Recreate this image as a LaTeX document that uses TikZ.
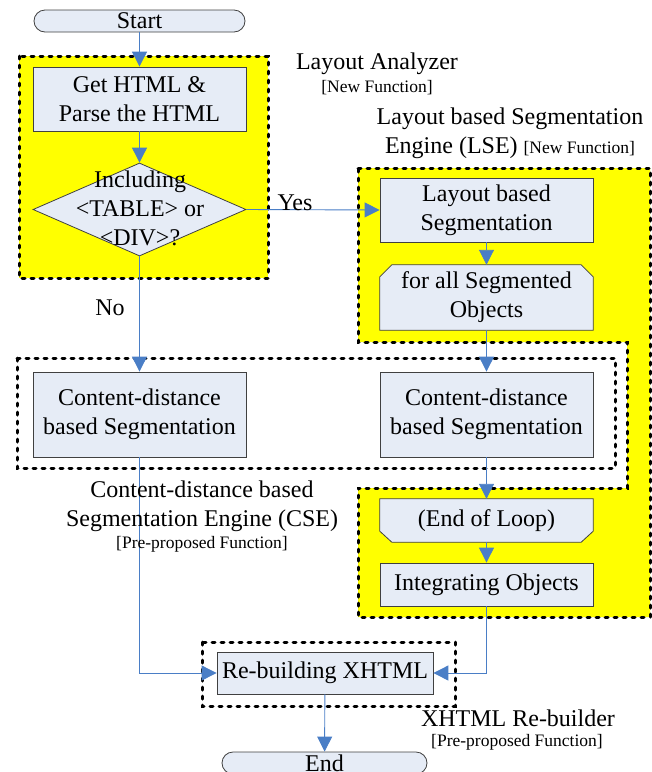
\documentclass[tikz,border=0pt]{standalone}
\usepackage{fontspec}
\setmainfont{Liberation Serif}
\usetikzlibrary{arrows.meta,shapes.geometric}
\definecolor{boxfill}{HTML}{E6ECF6}
\definecolor{boxline}{HTML}{404040}
\definecolor{flow}{HTML}{4A7EC6}
\definecolor{zone}{HTML}{FFFF00}
\pgfdeclarelayer{bg}
\pgfsetlayers{bg,main}
\begin{document}
\begin{tikzpicture}[x=1pt,y=-1pt,
  every node/.style={font=\fontsize{24}{29}\selectfont, inner sep=0pt},
  boxshape/.style={draw=boxline, fill=boxfill, line width=0.8pt},
  box/.style={boxshape, align=center, minimum width=213pt},
  txtbox/.style={align=center, minimum width=213pt},
  term/.style={box, rounded corners=11pt, minimum height=22pt},
  decision/.style={boxshape, diamond, minimum width=213pt, minimum height=93pt},
  flowline/.style={draw=flow, line width=0.9pt, -{Triangle[length=15pt,width=15pt]}},
  zonefill/.style={fill=zone},
  dashbox/.style={draw=black, line width=3pt, line cap=round, dash pattern=on 3pt off 6pt},
  note/.style={align=center},
  small/.style={font=\fontsize{17.5}{20}\selectfont}
]
\useasboundingbox (0,0) rectangle (652,772);

% functional zones
\begin{pgfonlayer}{bg}
  \filldraw[zonefill, dashbox] (19,56) rectangle (268,278);
  \filldraw[zonefill, dashbox] (358,168) -- (650,168) -- (650,617) -- (358,617)
     -- (358,488) -- (627,488) -- (627,342) -- (358,342) -- cycle;
  \draw[dashbox] (17,358) rectangle (615,468);
  \draw[dashbox] (202,642) rectangle (455,706);
\end{pgfonlayer}

% steps
\node[term, minimum width=211pt] (start) at (139.5,21) {Start};
\node[box, minimum height=64pt] (get) at (139.5,99) {Get HTML \&\\Parse the HTML};
\node[decision] (dec) at (139.5,209.5) {};
\node[align=center] (dectext) at (140,208) {Including\\<TABLE> or\\<DIV>?};
\node[box, minimum height=64pt] (lseg) at (486.5,210) {Layout based\\Segmentation};
\node[txtbox, minimum height=65pt] (forall) at (486.5,297.5) {for all Segmented\\Objects};
\node[box, minimum height=85pt] (cdl) at (139.5,414.5) {Content-distance\\based Segmentation};
\node[box, minimum height=85pt] (cdr) at (486.5,414.5) {Content-distance\\based Segmentation};
\node[txtbox, minimum height=43pt] (endloop) at (486.5,520.5) {(End of Loop)};
\node[box, minimum height=43pt] (integ) at (486.5,584.5) {Integrating Objects};
\node[box, minimum width=216pt, minimum height=42pt] (rebuild) at (325,673) {Re-building XHTML};
\node[term, minimum width=205pt] (end) at (324.5,763) {End};

% loop limit shapes
\begin{pgfonlayer}{bg}
  \filldraw[boxshape] (forall.south west) -- ([yshift=-12pt]forall.north west)
     -- ([xshift=12pt]forall.north west) -- ([xshift=-12pt]forall.north east)
     -- ([yshift=-12pt]forall.north east) -- (forall.south east) -- cycle;
  \filldraw[boxshape] (endloop.north west) -- (endloop.north east)
     -- ([yshift=11pt]endloop.south east) -- ([xshift=-12pt]endloop.south east)
     -- ([xshift=12pt]endloop.south west) -- ([yshift=11pt]endloop.south west) -- cycle;
\end{pgfonlayer}

% connectors
\draw[flowline] (start) -- (get);
\draw[flowline] (get) -- (dec);
\draw[flowline] (dec.east) -- (lseg.west);
\draw[flowline] (dec.south) -- (cdl.north);
\draw[flowline] (lseg) -- (forall);
\draw[flowline] (forall) -- (cdr);
\draw[flowline] (cdr) -- (endloop);
\draw[flowline] (endloop) -- (integ);
\draw[flowline] (cdl.south) |- (rebuild.west);
\draw[flowline] (integ.south) |- (rebuild.east);
\draw[flowline] (rebuild) -- (end);

% labels
\node (yes) at (295,203) {Yes};
\node (no) at (110,308) {No};
\node (la) at (377,64) {Layout Analyzer};
\node[small] (lanote) at (377,88) {[New Function]};
\node[note] (lse) at (510,133) {Layout based Segmentation\\Engine (LSE) {\fontsize{17.5}{20}\selectfont[New Function]}};
\node[note] (cse) at (202,506) {Content-distance based\\Segmentation Engine (CSE)};
\node[small] (csenote) at (202,544) {[Pre-proposed Function]};
\node (xr) at (518,718) {XHTML Re-builder};
\node[small] (xrnote) at (517,742) {[Pre-proposed Function]};
\end{tikzpicture}
\end{document}
